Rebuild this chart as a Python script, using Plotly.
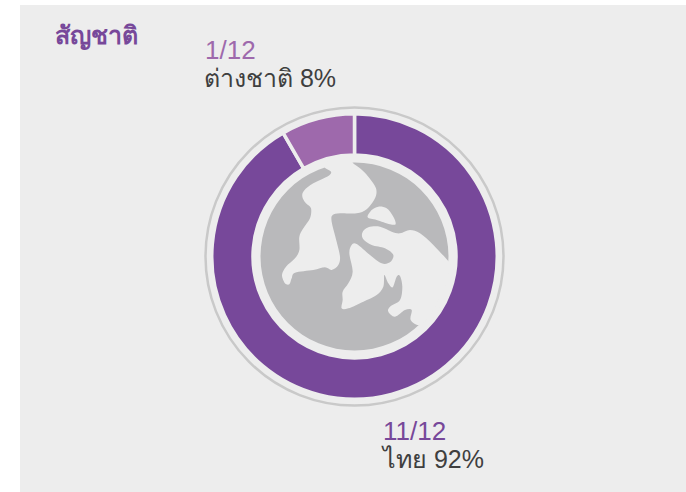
import plotly.graph_objects as go

# Data
categories = ["ไทย", "ต่างชาติ"]
counts = [11, 1]
count_labels = ["11/12", "1/12"]
pct_labels = ["ไทย 92%", "ต่างชาติ 8%"]
title_text = "สัญชาติ"

W, H = 686, 492
BG = "#ededed"
DARK = "#77489a"
LIGHT = "#9e69ac"
FONT = "Liberation Sans, Noto Sans, DejaVu Sans, sans-serif"
cx, cy = 354.5, 256.5
R_OUT, R_IN = 142.75, 101.5


def px(x):
    return x / W


def py(y):
    return 1 - y / H


# Decorative globe outlines, traced in zoom coordinates (3x from origin 200,100)
left_land = [(375,203),(393,215),(385,228),(340,250),(312,272),(307,290),(318,310),(333,325),(330,355),
             (310,385),(298,410),(298,450),(285,475),(258,500),(246,525),(255,550),(268,553),(275,535),
             (285,518),(340,510),(375,502),(395,510),(415,495),(420,470),(410,425),(395,365),(398,345),
             (420,340),(470,340),(500,328),(525,295),(528,265),(505,230),(480,205),(458,188),(458,178),(375,188)]
island = [(503,352),(515,330),(535,320),(560,325),(580,350),(587,372),(570,373),(530,360)]
right_land = [(745,483),(700,435),(660,400),(630,390),(600,400),(575,395),(540,380),(505,382),(487,398),
              (490,418),(515,435),(555,445),(580,465),(570,487),(545,490),(510,465),(470,432),(455,435),
              (448,460),(458,515),(445,550),(428,575),(428,600),(425,625),(445,625),(490,605),(530,585),
              (550,560),(553,525),(565,550),(578,562),(590,530),(600,528),(607,560),(600,600),(570,620),
              (565,635),(585,650),(615,630),(635,630),(632,660),(658,675),(690,645),(735,560),(752,490)]


def smooth_path(pts, t=0.16):
    p = [(200 + x / 3, 100 + y / 3) for x, y in pts]
    n = len(p)
    d = f"M{px(p[0][0]):.5f},{py(p[0][1]):.5f}"
    for i in range(n):
        p0, p1, p2, p3 = p[i - 1], p[i], p[(i + 1) % n], p[(i + 2) % n]
        c1 = (p1[0] + (p2[0] - p0[0]) * t, p1[1] + (p2[1] - p0[1]) * t)
        c2 = (p2[0] - (p3[0] - p1[0]) * t, p2[1] - (p3[1] - p1[1]) * t)
        d += (f"C{px(c1[0]):.5f},{py(c1[1]):.5f} {px(c2[0]):.5f},{py(c2[1]):.5f} "
              f"{px(p2[0]):.5f},{py(p2[1]):.5f}")
    return d + "Z"


def circle(r, **kw):
    return dict(type="circle", xref="paper", yref="paper",
                x0=px(cx - r), x1=px(cx + r), y0=py(cy + r), y1=py(cy - r), **kw)


shapes = [
    dict(type="rect", xref="paper", yref="paper", x0=px(20), x1=1, y0=0, y1=py(5),
         fillcolor=BG, line_width=0, layer="below"),
    circle(149, line=dict(color="#c9c9c9", width=2.5), fillcolor="rgba(0,0,0,0)", layer="below"),
    circle(94, line_width=0, fillcolor="#b9b9bb"),
]
for land in (left_land, island, right_land):
    shapes.append(dict(type="path", xref="paper", yref="paper", path=smooth_path(land),
                       fillcolor=BG, line_width=0))

fig = go.Figure(go.Pie(
    labels=categories, values=counts, hole=R_IN / R_OUT, sort=False, direction="clockwise", rotation=0,
    textinfo="none", hoverinfo="label+value", showlegend=False,
    marker=dict(colors=[DARK, LIGHT], line=dict(color=BG, width=3.5)),
    domain=dict(x=[px(cx - R_OUT), px(cx + R_OUT)], y=[py(cy + R_OUT), py(cy - R_OUT)]),
))


def note(x, y, text, size, color, bold=False):
    return dict(xref="paper", yref="paper", x=px(x), y=py(y), xanchor="left", yanchor="middle",
                showarrow=False, text=f"<b>{text}</b>" if bold else text,
                font=dict(family=FONT, size=size, color=color))


fig.update_layout(
    width=W, height=H, margin=dict(l=0, r=0, t=0, b=0), paper_bgcolor="white",
    shapes=shapes,
    annotations=[
        note(53, 35, title_text, 25, DARK, True),
        note(203, 50, count_labels[1], 26, LIGHT),
        note(202, 78, pct_labels[1], 25, "#3f3f3f"),
        note(381, 431, count_labels[0], 26, DARK),
        note(379, 459, pct_labels[0], 25, "#3f3f3f"),
    ],
)
fig.write_html("out.html", post_script="document.body.style.margin='0';",
               config={"displayModeBar": False})
